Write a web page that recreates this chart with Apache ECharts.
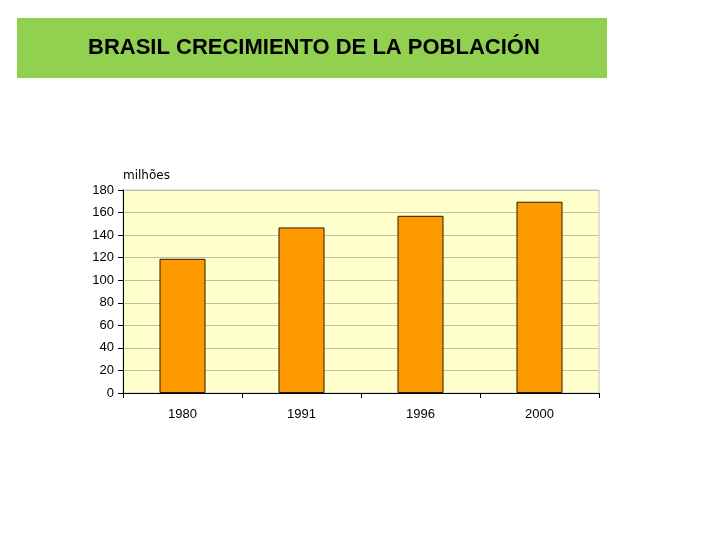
<!DOCTYPE html>
<html>
<head>
<meta charset="utf-8">
<script src="https://cdn.jsdelivr.net/npm/echarts@6/dist/echarts.min.js"></script>
<style>
  html, body { margin: 0; padding: 0; background: #fff; }
  #chart { width: 720px; height: 540px; }
</style>
</head>
<body>
<div id="chart"></div>
<script>
// census years and population (millions)
const years = ['1980', '1991', '1996', '2000'];
const population = [119, 146.8, 157.1, 169.6];
const titleText = 'BRASIL CRECIMIENTO DE LA POBLACIÓN';
const unitLabel = 'milhões';

const chart = echarts.init(document.getElementById('chart'), null, { renderer: 'canvas' });

chart.setOption({
  backgroundColor: '#fff',
  animation: false,
  graphic: [
    {
      type: 'rect',
      left: 17,
      top: 18,
      shape: { width: 590, height: 60 },
      style: { fill: '#92D050' }
    },
    {
      type: 'text',
      left: 88,
      top: 37,
      style: {
        text: titleText,
        font: 'bold 22px "Liberation Sans", Arial, sans-serif',
        fill: '#000'
      }
    }
  ],
  grid: {
    left: 123,
    right: 121,
    top: 190,
    bottom: 147,
    show: true,
    backgroundColor: '#FFFFCC',
    borderColor: '#c4c4bc',
    borderWidth: 1
  },
  xAxis: {
    type: 'category',
    data: years,
    axisLine: { lineStyle: { color: '#000', width: 1 } },
    axisTick: { show: true, length: 5, lineStyle: { color: '#000' } },
    axisLabel: {
      color: '#000',
      fontSize: 13,
      fontFamily: 'Liberation Sans, Arial, sans-serif',
      margin: 15
    }
  },
  yAxis: {
    type: 'value',
    min: 0,
    max: 180,
    interval: 20,
    name: unitLabel,
    nameLocation: 'end',
    nameGap: 8,
    nameTextStyle: {
      align: 'left',
      color: '#000',
      fontSize: 12,
      fontFamily: 'DejaVu Sans, Verdana, sans-serif'
    },
    axisLine: { show: true, lineStyle: { color: '#000', width: 1 } },
    axisTick: { show: true, length: 5, lineStyle: { color: '#000' } },
    axisLabel: {
      color: '#000',
      fontSize: 13,
      fontFamily: 'Liberation Sans, Arial, sans-serif',
      margin: 9
    },
    splitLine: { lineStyle: { color: '#c0c0a8', width: 1 } }
  },
  series: [{
    type: 'bar',
    data: population,
    barWidth: 46,
    itemStyle: {
      color: '#FF9900',
      borderColor: '#2b1a00',
      borderWidth: 1
    }
  }]
});
</script>
</body>
</html>
